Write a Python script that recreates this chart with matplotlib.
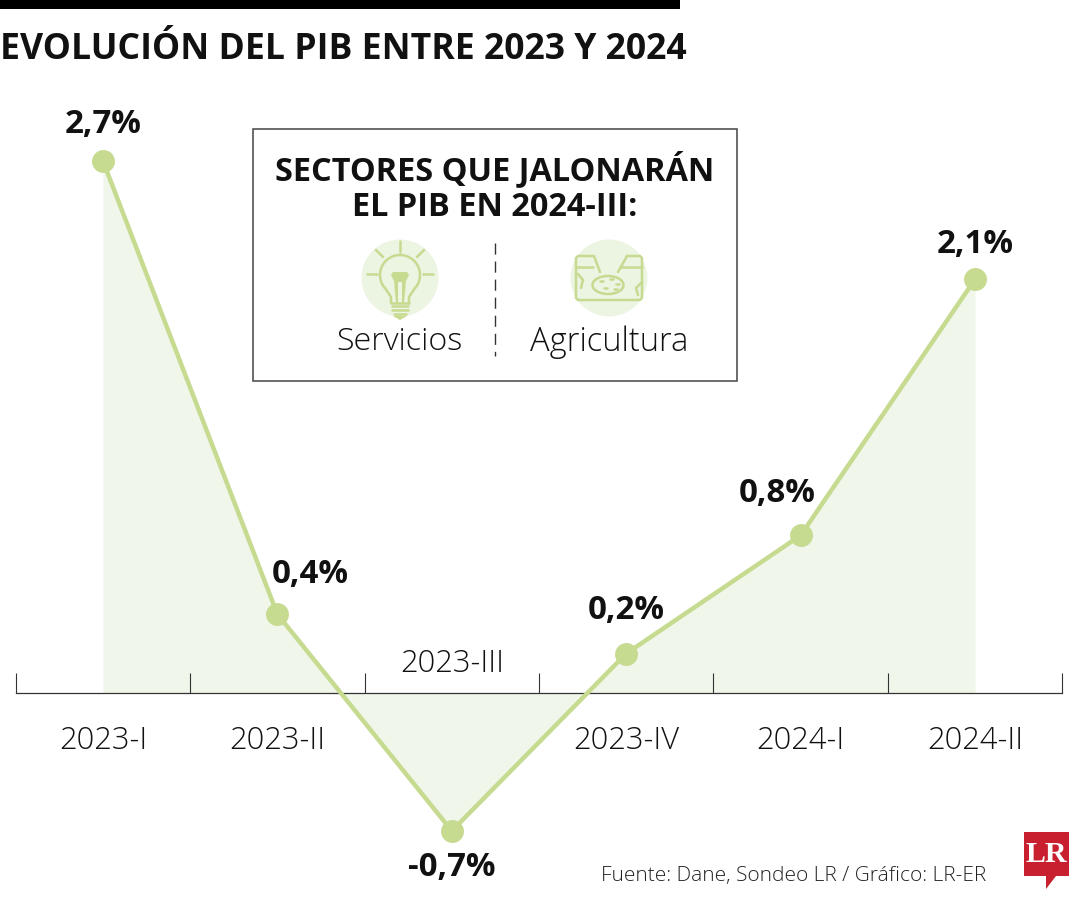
import numpy as np
import matplotlib
matplotlib.use("Agg")
import matplotlib.pyplot as plt
from matplotlib.patches import Circle, Rectangle, Polygon, Ellipse

periods = ["2023-I", "2023-II", "2023-III", "2023-IV", "2024-I", "2024-II"]
growth = [2.7, 0.4, -0.7, 0.2, 0.8, 2.1]
value_labels = ["2,7%", "0,4%", "-0,7%", "0,2%", "0,8%", "2,1%"]

GREEN = "#c6da90"
PALE = "#f0f6e9"
CIRCLE = "#ecf4e2"
W, H = 1080, 900
FONT = ["Open Sans", "DejaVu Sans"]
plt.rcParams["font.family"] = FONT

fig = plt.figure(figsize=(W / 100, H / 100), dpi=100, facecolor="white")
ax = fig.add_axes([0, 0, 1, 1])
ax.set_facecolor("none")
# data axes: one period = 174.4 px, one point of growth = 197 px
ax.set_xlim(-103 / 174.4, (W - 103) / 174.4)
ax.set_ylim((693 - H) / 197, 693 / 197)

x = np.arange(len(periods))
ax.fill_between(x, growth, 0, color=PALE, lw=0, interpolate=True, zorder=1)
ax.plot(x, growth, color=GREEN, lw=3.2, solid_capstyle="round", zorder=3)
ax.plot(x, growth, "o", color=GREEN, ms=16.5, mew=0, zorder=4)

for s in ax.spines.values():
    s.set_visible(False)
ax.spines["bottom"].set_visible(True)
ax.spines["bottom"].set_position(("data", 0))
ax.spines["bottom"].set_bounds(-0.5, 5.5)
ax.spines["bottom"].set_color("#333333")
ax.spines["bottom"].set_linewidth(0.9)
ax.spines["bottom"].set_zorder(2)
ax.set_yticks([])
ax.set_xticks(np.arange(-0.5, 5.6, 1))
ax.set_xticklabels([])
ax.tick_params(axis="x", direction="in", length=14.5, width=0.8, color="#333333")

label_dy = {0: (0, 37), 1: (33, 40), 2: (0, -37), 3: (0, 43), 4: (-23, 42), 5: (0, 35)}
for i, (v, t) in enumerate(zip(growth, value_labels)):
    dx, dy = label_dy[i]
    ax.annotate(t, (i, v), xytext=(dx * 0.72, dy * 0.72), textcoords="offset points",
                ha="center", va="center", fontsize=23.8, fontweight="bold",
                color="#111111", zorder=6)
for i, t in enumerate(periods):
    ypos = 29 / 197 if i == 2 else -48 / 197
    ax.text(i, ypos, t, ha="center", va="center", fontsize=22.2, fontweight="light",
            color="#111111", zorder=6)

# overlay in pixel coordinates for furniture
ov = fig.add_axes([0, 0, 1, 1])
ov.set_xlim(0, W)
ov.set_ylim(H, 0)
ov.axis("off")
ov.patch.set_alpha(0)

ov.add_patch(Rectangle((0, 0), 680, 9, color="black", lw=0))
ov.text(0, 50, "EVOLUCIÓN DEL PIB ENTRE 2023 Y 2024", ha="left", va="center",
        fontsize=25.55, fontweight="bold", color="#111111")

ov.add_patch(Rectangle((253, 129), 484, 252, fc="white", ec="#444444", lw=1.1, zorder=2))
ov.text(495, 170, "SECTORES QUE JALONARÁN", ha="center", va="center", fontsize=23.4,
        fontweight="bold", color="#111111", zorder=3)
ov.text(495, 207, "EL PIB EN 2024-III:", ha="center", va="center", fontsize=23.4,
        fontweight="bold", color="#111111", zorder=3)
ov.plot([495, 495], [243, 356], color="#333333", lw=1, ls=(0, (8, 5)), zorder=3)
ov.text(399, 342, "Servicios", ha="center", va="center", fontsize=23.2, fontweight="light",
        color="#111111", zorder=3)
ov.text(609, 342, "Agricultura", ha="center", va="center", fontsize=23.5, fontweight="light",
        color="#111111", zorder=3)

# light bulb icon
ov.add_patch(Circle((400, 278), 38.5, fc=CIRCLE, lw=0, zorder=3))
ic = dict(color=GREEN, lw=1.8, zorder=4, solid_capstyle="round")
th = np.radians(np.linspace(-40, 220, 60))
ov.plot(400 + 20 * np.cos(th), 275 - 20 * np.sin(th), **ic)
ov.plot([385, 391, 391], [288, 297, 303], **ic)
ov.plot([415, 409, 409], [288, 297, 303], **ic)
ov.plot([391, 409], [303, 303], **ic)
for yy, a, b in [(306, 392, 408), (310, 392, 408), (314, 394, 406)]:
    ov.plot([a, b], [yy, yy], **ic)
ov.add_patch(Polygon([(393, 316), (407, 316), (400, 320)], fc=GREEN, lw=0, zorder=4))
ov.add_patch(Polygon([(391, 275), (393, 272), (407, 272), (409, 275), (406, 281), (404, 303),
                      (402, 303), (402, 282), (398, 282), (398, 303), (396, 303), (394, 281)],
                     fc=GREEN, lw=0, zorder=4))
for (a, b, c, d) in [(400, 241, 400, 252), (376, 250, 383, 257), (424, 250, 417, 257),
                     (367, 274, 377, 274), (423, 274, 433, 274)]:
    ov.plot([a, c], [b, d], **ic)

# agriculture icon
ov.add_patch(Circle((609, 278), 38.5, fc=CIRCLE, lw=0, zorder=3))
ov.plot([600, 594, 578, 576, 576, 578, 640, 642, 642, 640, 627, 618],
        [272, 256, 256, 258, 298, 300, 300, 298, 258, 256, 256, 272], **ic)
ov.add_patch(Ellipse((608, 285), 31, 18, fc="none", ec=GREEN, lw=1.8, zorder=4))
ov.plot([577, 593], [267, 267], **ic)
ov.plot([620, 642], [267, 267], **ic)
ov.plot([578, 583, 581], [274, 280, 288], **ic)
ov.plot([642, 636, 638], [282, 288, 295], **ic)
for (a, b) in [(600, 281), (610, 279), (616, 284), (604, 288), (614, 289)]:
    ov.plot([a, a + 3], [b, b], **ic)

ov.text(986, 876, "Fuente: Dane, Sondeo LR / Gráfico: LR-ER", ha="right", va="center",
        fontsize=15.0, fontweight="light", color="#222222")

# LR logo
ov.add_patch(Polygon([(1024, 832), (1069, 832), (1069, 876), (1056, 876), (1046, 889),
                      (1046, 876), (1024, 876)], fc="#c8202e", lw=0))
ov.text(1046.5, 855, "LR", ha="center", va="center", fontsize=21.5, fontweight="bold",
        family="Liberation Serif", color="white")

fig.savefig("out.png", dpi=100)
